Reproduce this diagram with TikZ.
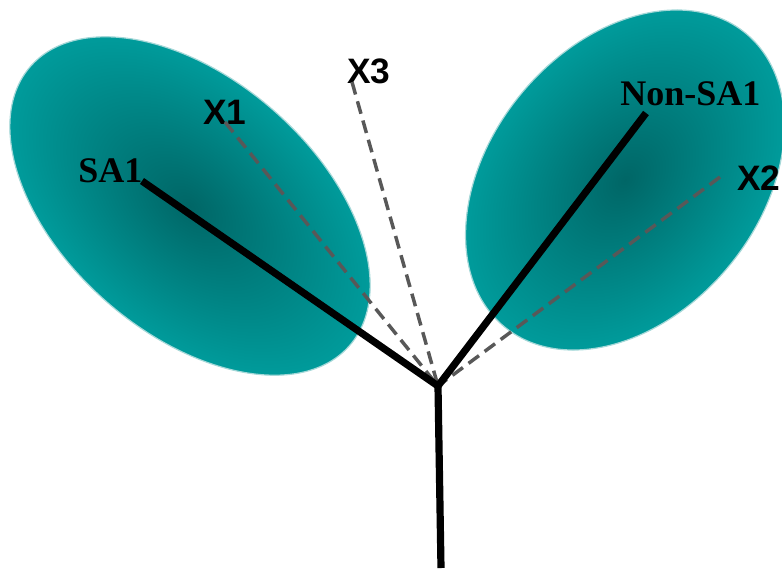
\documentclass[tikz,border=0pt]{standalone}
\usepackage{fontspec}
\setmainfont{Liberation Serif}
\setsansfont{Liberation Sans}
\usetikzlibrary{positioning}
\definecolor{LeafIn}{RGB}{0,102,102}
\definecolor{LeafOut}{RGB}{0,155,155}
\definecolor{LeafRim}{RGB}{165,216,216}
\definecolor{DashGray}{RGB}{88,88,88}

\begin{document}
\begin{tikzpicture}[
  x=0.75pt, y=-0.75pt,
  leaf/.style={inner color=LeafIn, outer color=LeafOut, draw=LeafRim, line width=0.9pt},
  stem/.style={line width=5.4pt, draw=black},
  axis/.style={line width=2.6pt, draw=DashGray, dash pattern=on 9.75pt off 5.25pt},
  seriflbl/.style={font=\bfseries\fontsize{27}{31}\selectfont, inner sep=0pt, anchor=base west},
  sanslbl/.style={font=\sffamily\bfseries\fontsize{26.5}{30}\selectfont, inner sep=0pt, anchor=base west}
]
\useasboundingbox (0,0) rectangle (782,568);
\begin{scope}[transform canvas={shift={(190,206)}, rotate=-41.2}]
  \shadedraw[leaf] (0,0) ellipse [x radius=212, y radius=127];
\end{scope}
\begin{scope}[transform canvas={shift={(625,180)}, rotate=50.6}]
  \shadedraw[leaf] (0,0) ellipse [x radius=190, y radius=135];
\end{scope}
\coordinate (fork) at (438,386);
\coordinate (root) at (441,568);
\coordinate (satip) at (142,181);
\coordinate (x1tip) at (225,122);
\coordinate (x2tip) at (720,177);
\coordinate (x3tip) at (352,82);
\coordinate (nontip) at (646,113);
\node[seriflbl] (sa1) at (78,182) {SA1};
\node[seriflbl] (nonsa1) at (620,105) {Non-SA1};
\node[sanslbl] (x1) at (203,124) {X1};
\node[sanslbl] (x2) at (737,190) {X2};
\node[sanslbl] (x3) at (347,83) {X3};
\draw[axis] (x1tip) -- (fork);
\draw[axis] (x3tip) -- (fork);
\draw[axis] (x2tip) -- (fork);
\draw[stem] (satip) -- (fork);
\draw[stem] (nontip) -- (fork);
\draw[stem] (fork) -- (root);
\end{tikzpicture}
\end{document}
